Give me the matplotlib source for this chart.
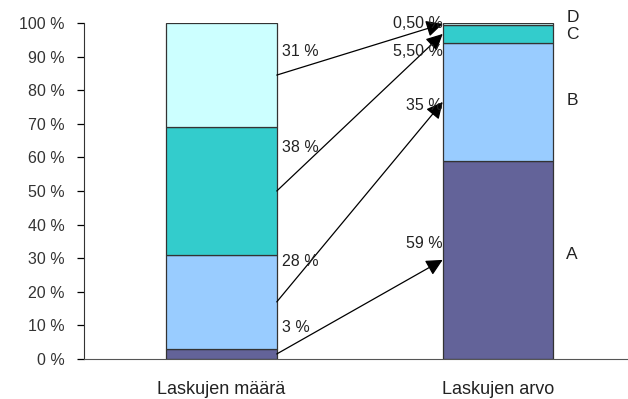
import matplotlib.pyplot as plt
import numpy as np

plt.rcParams['font.family'] = ['Liberation Sans', 'DejaVu Sans']

bars = ['Laskujen määrä', 'Laskujen arvo']
categories = ['A', 'B', 'C', 'D']
maara = [3, 28, 38, 31]
arvo = [59, 35, 5.5, 0.5]
maara_labels = ['3 %', '28 %', '38 %', '31 %']
arvo_labels = ['59 %', '35 %', '5,50 %', '0,50 %']
colors = ['#636399', '#99CCFF', '#33CCCC', '#CCFFFF']

fig = plt.figure(figsize=(6.28, 3.99), dpi=100)
ax = fig.add_axes([84 / 628, 40 / 399, 544 / 628, 336 / 399])

x = np.arange(len(bars))
w = 0.40
bottom = np.zeros(2)
for i, cat in enumerate(categories):
    vals = np.array([maara[i], arvo[i]])
    ax.bar(x, vals, w, bottom=bottom, color=colors[i], edgecolor='#333333', linewidth=0.9)
    bottom += vals

# arrows from the middle of each left segment to the middle of the matching right segment
lb = np.cumsum([0] + maara[:-1])
rb = np.cumsum([0] + arvo[:-1])
for i in range(len(categories)):
    y0 = lb[i] + maara[i] / 2
    y1 = rb[i] + arvo[i] / 2
    ax.annotate('', xy=(x[1] - w / 2, y1), xytext=(x[0] + w / 2, y0),
                arrowprops=dict(arrowstyle='-|>,head_length=0.5,head_width=0.25',
                                color='black', lw=0.9, mutation_scale=20,
                                shrinkA=0, shrinkB=0))

# value labels (rough positions)
left_pos = [9.5, 29, 63, 91.5]
right_pos = [34.5, 75.5, 91.5, 100]
cat_pos = [31, 77, 96.5, 101.5]
for i in range(len(categories)):
    ax.text(x[0] + w / 2 + 0.018, left_pos[i], maara_labels[i], fontsize=11.5,
            ha='left', va='center', color='#222222')
    ax.text(x[1] - w / 2, right_pos[i], arvo_labels[i], fontsize=11.5,
            ha='right', va='center', color='#222222')
    ax.text(x[1] + w / 2 + 0.047, cat_pos[i], categories[i], fontsize=12.5,
            ha='left', va='center', color='#222222')

ax.set_xlim(-0.497, 1.47)
ax.set_ylim(0, 100)
ax.set_yticks(range(0, 101, 10))
ax.set_yticklabels([f'{v} %' for v in range(0, 101, 10)], fontsize=11.5, color='#333333')
ax.set_xticks(x)
ax.set_xticklabels(bars, fontsize=13, color='#222222')
ax.tick_params(axis='x', length=0, pad=16)
ax.tick_params(axis='y', length=5, width=0.9, direction='out', pad=9)
ax.spines['top'].set_visible(False)
ax.spines['right'].set_visible(False)
ax.spines['left'].set_color('#333333')
ax.spines['bottom'].set_color('#555555')

plt.savefig('out.png', dpi=100)
